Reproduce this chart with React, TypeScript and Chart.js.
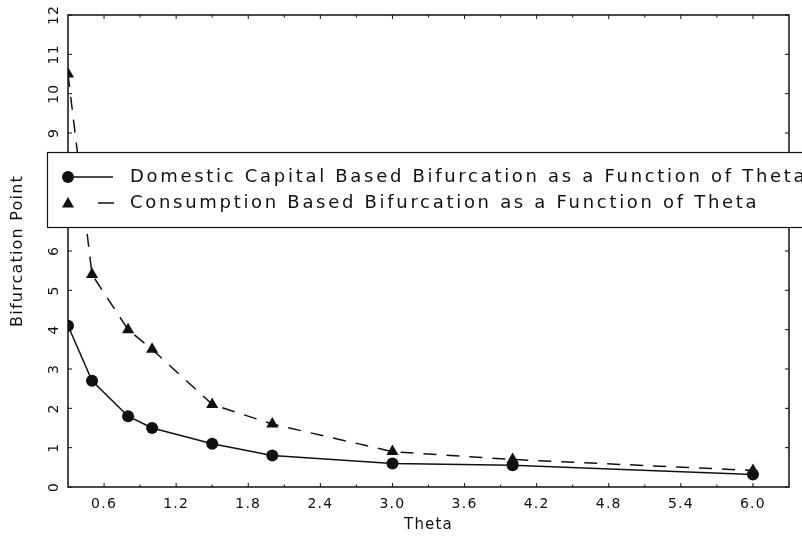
import React, { useEffect, useRef } from 'react';
import { Chart, registerables } from 'chart.js';

Chart.register(...registerables);

const THETA = [0.3, 0.5, 0.8, 1.0, 1.5, 2.0, 3.0, 4.0, 6.0];
const DOMESTIC = [4.1, 2.7, 1.8, 1.5, 1.1, 0.8, 0.6, 0.55, 0.32];
const CONSUMPTION = [10.5, 5.4, 4.0, 3.5, 2.1, 1.6, 0.9, 0.7, 0.42];
const X_TICKS = [0.6, 1.2, 1.8, 2.4, 3.0, 3.6, 4.2, 4.8, 5.4, 6.0];
const X_MINOR_TICKS = [0.9, 1.5, 2.1, 2.7, 3.3, 3.9, 4.5, 5.1, 5.7];
const Y_TICKS = [0, 1, 2, 3, 4, 5, 6, 7, 8, 9, 10, 11, 12];
const SERIES_LABELS = [
  'Domestic Capital Based Bifurcation as a Function of Theta',
  'Consumption Based Bifurcation as a Function of Theta',
];
const X_TITLE = 'Theta';
const Y_TITLE = 'Bifurcation Point';

const FONT = 'DejaVu Sans';
const INK = '#111';

const framePlugin = {
  id: 'frame',
  beforeDraw(chart: any) {
    chart.ctx.letterSpacing = '1.2px';
  },
  afterDraw(chart: any) {
    const ctx = chart.ctx;
    const { left, right, top, bottom } = chart.chartArea;
    const xs = chart.scales.x;
    const ys = chart.scales.y;
    ctx.save();
    ctx.strokeStyle = INK;
    ctx.lineWidth = 1.5;
    ctx.strokeRect(left, top, right - left, bottom - top);
    ctx.lineWidth = 1;
    ctx.beginPath();
    for (const v of Y_TICKS) {
      const p = ys.getPixelForValue(v);
      ctx.moveTo(left, p);
      ctx.lineTo(left + 4, p);
      ctx.moveTo(right, p);
      ctx.lineTo(right - 4, p);
    }
    for (const v of X_TICKS) {
      const p = xs.getPixelForValue(v);
      ctx.moveTo(p, bottom);
      ctx.lineTo(p, bottom - 4);
      ctx.moveTo(p, top);
      ctx.lineTo(p, top + 4);
    }
    for (const v of X_MINOR_TICKS) {
      const p = xs.getPixelForValue(v);
      ctx.moveTo(p, bottom);
      ctx.lineTo(p, bottom - 2.5);
      ctx.moveTo(p, top);
      ctx.lineTo(p, top + 2.5);
    }
    ctx.stroke();

    // legend box overlaying the plot
    const bx = 47, by = 152, bh = 75;
    ctx.fillStyle = '#fff';
    ctx.fillRect(bx, by, 900, bh);
    ctx.lineWidth = 1.2;
    ctx.strokeRect(bx + 0.5, by + 0.5, 900, bh);

    const rows = [177, 203];
    ctx.fillStyle = INK;
    ctx.strokeStyle = INK;
    // row 1: solid line + circle
    ctx.lineWidth = 1.5;
    ctx.beginPath();
    ctx.moveTo(64, rows[0]);
    ctx.lineTo(113, rows[0]);
    ctx.stroke();
    ctx.beginPath();
    ctx.arc(68, rows[0], 6, 0, Math.PI * 2);
    ctx.fill();
    // row 2: triangle + dash
    ctx.beginPath();
    ctx.moveTo(68, rows[1] - 6);
    ctx.lineTo(74, rows[1] + 4.5);
    ctx.lineTo(62, rows[1] + 4.5);
    ctx.closePath();
    ctx.fill();
    ctx.beginPath();
    ctx.moveTo(98, rows[1]);
    ctx.lineTo(114, rows[1]);
    ctx.stroke();

    ctx.font = `18px "${FONT}"`;
    ctx.letterSpacing = '2.7px';
    ctx.textBaseline = 'middle';
    ctx.textAlign = 'left';
    SERIES_LABELS.forEach((t, i) => ctx.fillText(t, 130, rows[i]));
    ctx.restore();
  },
};

export default function App() {
  const ref = useRef<HTMLCanvasElement>(null);
  useEffect(() => {
    document.body.style.margin = '0';
    const chart = new Chart(ref.current as HTMLCanvasElement, {
      type: 'line',
      data: {
        datasets: [
          {
            label: SERIES_LABELS[0],
            data: THETA.map((x, i) => ({ x, y: DOMESTIC[i] })),
            borderColor: INK,
            backgroundColor: INK,
            borderWidth: 1.5,
            pointStyle: 'circle',
            pointRadius: 6,
            pointBorderWidth: 0,
            tension: 0,
            clip: 0,
          },
          {
            label: SERIES_LABELS[1],
            data: THETA.map((x, i) => ({ x, y: CONSUMPTION[i] })),
            borderColor: INK,
            backgroundColor: INK,
            borderWidth: 1.5,
            borderDash: [13, 10],
            pointStyle: 'triangle',
            pointRadius: 7,
            pointBorderWidth: 0,
            tension: 0,
            clip: 0,
          },
        ],
      },
      options: {
        animation: false,
        responsive: false,
        devicePixelRatio: 1,
        layout: { padding: { top: 15, right: 13, left: 0, bottom: 0 } },
        plugins: { legend: { display: false }, tooltip: { enabled: false } },
        scales: {
          x: {
            type: 'linear',
            min: 0.3,
            max: 6.3,
            afterBuildTicks: (s: any) => {
              s.ticks = X_TICKS.map((v) => ({ value: v }));
            },
            afterFit: (s: any) => {
              s.height = 56;
            },
            grid: { display: false, drawTicks: false },
            border: { display: false },
            ticks: {
              autoSkip: false,
              minRotation: 0,
              maxRotation: 0,
              padding: 9,
              color: INK,
              font: { family: FONT, size: 14 },
              callback: (v: any) => Number(v).toFixed(1),
            },
            title: {
              display: true,
              text: X_TITLE,
              color: INK,
              font: { family: FONT, size: 15 },
              padding: { top: 0, bottom: 9 },
            },
          },
          y: {
            type: 'linear',
            min: 0,
            max: 12,
            afterBuildTicks: (s: any) => {
              s.ticks = Y_TICKS.map((v) => ({ value: v }));
            },
            afterFit: (s: any) => {
              s.width = 68;
            },
            grid: { display: false, drawTicks: false },
            border: { display: false },
            ticks: {
              autoSkip: false,
              minRotation: 90,
              maxRotation: 90,
              crossAlign: 'center',
              padding: 5,
              color: INK,
              font: { family: FONT, size: 14 },
              callback: (v: any) => String(v),
            },
            title: {
              display: true,
              text: Y_TITLE,
              color: INK,
              font: { family: FONT, size: 16 },
              padding: { top: 8, bottom: 0 },
            },
          },
        },
      },
      plugins: [framePlugin],
    });
    return () => chart.destroy();
  }, []);
  return (
    <div style={{ position: 'fixed', left: 0, top: 0, width: 802, height: 543, background: '#fff' }}>
      <canvas ref={ref} width={802} height={543} />
    </div>
  );
}
